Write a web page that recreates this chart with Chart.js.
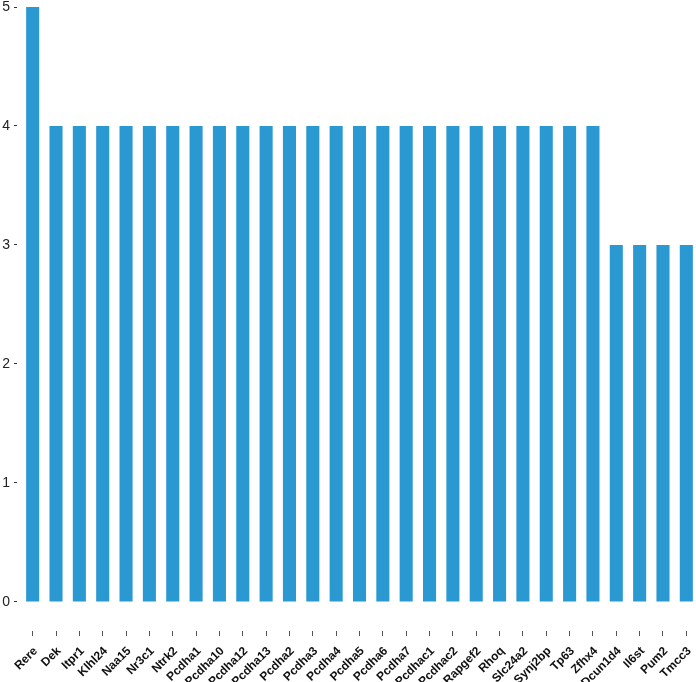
<!DOCTYPE html>
<html>
<head>
<meta charset="utf-8">
<script src="https://cdn.jsdelivr.net/npm/chart.js@4/dist/chart.umd.min.js"></script>
<style>
  html, body { margin: 0; padding: 0; background: #fff; overflow: hidden; }
  #wrap { width: 698px; height: 682px; }
</style>
</head>
<body>
<div id="wrap"><canvas id="chart" width="698" height="682"></canvas></div>
<script>
// gene names and counts
const genes = [
  'Rere', 'Dek', 'Itpr1', 'Klhl24', 'Naa15', 'Nr3c1', 'Ntrk2', 'Pcdha1',
  'Pcdha10', 'Pcdha12', 'Pcdha13', 'Pcdha2', 'Pcdha3', 'Pcdha4', 'Pcdha5',
  'Pcdha6', 'Pcdha7', 'Pcdhac1', 'Pcdhac2', 'Rapgef2', 'Rhoq', 'Slc24a2',
  'Synj2bp', 'Tp63', 'Zfhx4', 'Dcun1d4', 'Il6st', 'Pum2', 'Tmcc3'
];
const counts = [
  5, 4, 4, 4, 4, 4, 4, 4,
  4, 4, 4, 4, 4, 4, 4,
  4, 4, 4, 4, 4, 4, 4,
  4, 4, 4, 3, 3, 3, 3
];
const yTicks = [0, 1, 2, 3, 4, 5];

const barColor = '#2A99D2';

new Chart(document.getElementById('chart'), {
  type: 'bar',
  data: {
    labels: genes,
    datasets: [{
      data: counts,
      backgroundColor: barColor,
      borderWidth: 0,
      categoryPercentage: 1,
      barPercentage: 0.56
    }]
  },
  options: {
    responsive: false,
    animation: false,
    layout: { padding: 0 },
    plugins: { legend: { display: false }, tooltip: { enabled: false } },
    scales: {
      x: {
        offset: true,
        border: { display: false },
        grid: {
          offset: false,
          drawOnChartArea: false,
          drawTicks: true,
          tickLength: 5,
          tickWidth: 1,
          tickColor: '#555'
        },
        ticks: {
          autoSkip: false,
          maxRotation: 45,
          minRotation: 45,
          padding: 8,
          labelOffset: 3,
          color: '#111',
          font: { family: 'Liberation Sans, Arial, sans-serif', size: 12, weight: 'bold' }
        },
        afterFit: (scale) => {
          scale.height = 51;
          scale.paddingLeft = 0;
          scale.paddingRight = 0;
        }
      },
      y: {
        min: -0.244,
        max: 5,
        border: { display: false },
        grid: {
          drawOnChartArea: false,
          drawTicks: true,
          tickLength: 7,
          tickColor: '#333',
          tickBorderDash: [3, 100]
        },
        ticks: {
          padding: 4,
          color: '#222',
          font: { family: 'Liberation Sans, Arial, sans-serif', size: 14 }
        },
        afterBuildTicks: (scale) => {
          scale.ticks = yTicks.map(v => ({ value: v }));
        },
        afterFit: (scale) => {
          scale.width = 21;
          scale.paddingTop = 7;
          scale.paddingBottom = 0;
        }
      }
    }
  }
});
</script>
</body>
</html>
